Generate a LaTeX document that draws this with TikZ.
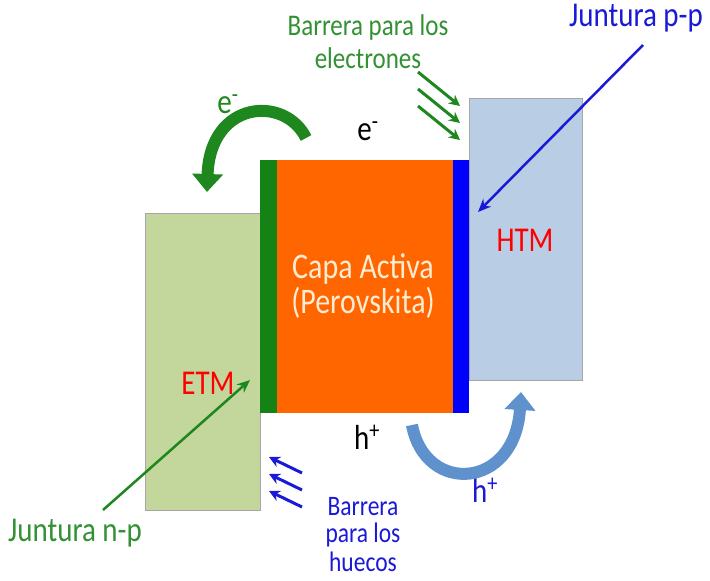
\documentclass[tikz,border=0pt]{standalone}
\usepackage{fontspec}
\usepackage{graphicx}
\setmainfont{Carlito}
\usetikzlibrary{arrows.meta}

\definecolor{etmfill}{RGB}{195,214,155}
\definecolor{htmfill}{RGB}{185,205,229}
\definecolor{stripgreen}{RGB}{20,130,20}
\definecolor{peroorange}{RGB}{255,102,0}
\definecolor{stripblue}{RGB}{0,0,255}
\definecolor{perotext}{RGB}{255,236,210}
\definecolor{labgreen}{RGB}{50,145,50}
\definecolor{arrgreen}{RGB}{30,135,30}
\definecolor{labblue}{RGB}{25,25,215}
\definecolor{holeblue}{RGB}{95,145,205}

\newcommand{\tall}[1]{\scalebox{1}[1.2]{#1}}

\begin{document}
\begin{tikzpicture}[x=1pt,y=-1pt,
    layer/.style={draw=black!35, inner sep=0pt, anchor=north west},
    strip/.style={inner sep=0pt, anchor=north west},
    big/.style={font=\fontsize{29}{30}\selectfont},
    mid/.style={font=\fontsize{25}{26}\selectfont},
    low/.style={font=\fontsize{23.5}{24}\selectfont},
    pointer/.style={line width=2.5pt, -{Stealth[length=13pt,width=11pt]}},
    barrier/.style={line width=3pt, -{Stealth[length=11pt,width=11pt]}},
    curvearrow/.style={line width=12pt, -{Triangle[length=18pt,width=30pt]}}]
    \useasboundingbox (0,0) rectangle (710,581);

    % capas de la celda
    \node at (145,213) [layer, fill=etmfill, minimum width=115pt, minimum height=297pt] (etm) {};
    \node at (469,98) [layer, fill=htmfill, minimum width=113pt, minimum height=282pt] (htm) {};
    \node at (260,160) [strip, fill=stripgreen, minimum width=17pt, minimum height=253pt] (gstrip) {};
    \node at (277,160) [strip, fill=peroorange, minimum width=176pt, minimum height=253pt] (pero) {};
    \node at (453,160) [strip, fill=stripblue, minimum width=16pt, minimum height=253pt] (bstrip) {};

    \node at (208,383) [big, red] (etmlab) {\tall{ETM}};
    \node at (525,240) [big, red] (htmlab) {\tall{HTM}};
    \node at (363,269) [big, perotext, font=\fontsize{30}{31}\selectfont] (perolab1) {\tall{Capa Activa}};
    \node at (363,303) [big, perotext, font=\fontsize{30}{31}\selectfont] (perolab2) {\tall{(Perovskita)}};

    % portadores
    \node at (368,131) [big] (etop) {\tall{e\textsuperscript{-}}};
    \node at (367,437) [big] (hbot) {\tall{h\textsuperscript{+}}};
    \node at (228,104) [big, arrgreen] (egreen) {\tall{e\textsuperscript{-}}};
    \node at (485,490) [big, labblue] (hblue) {\tall{h\textsuperscript{+}}};

    \draw[curvearrow, arrgreen] (306,138) .. controls (285,95) and (210,100) .. (207,192);
    \draw[curvearrow, holeblue] (412,425) .. controls (425,495) and (515,490) .. (521,392);

    % etiquetas
    \node at (368,28) [mid, labgreen] (barre1) {\tall{Barrera para los}};
    \node at (368,58) [mid, labgreen] (barre2) {\tall{electrones}};
    \node at (636,18) [big, labblue] (jpp) {\tall{Juntura p-p}};
    \node at (75,533) [big, labgreen] (jnp) {\tall{Juntura n-p}};
    \node at (363,507) [low, labblue] (barrh1) {\tall{Barrera}};
    \node at (363,535) [low, labblue] (barrh2) {\tall{para los}};
    \node at (363,562) [low, labblue] (barrh3) {\tall{huecos}};

    \coordinate (jppa) at (643,45);
    \coordinate (jppb) at (478,212);
    \coordinate (jnpa) at (103,510);
    \coordinate (jnpb) at (250,380);
    \draw[pointer, labblue] (jppa) -- (jppb);
    \draw[pointer, arrgreen] (jnpa) -- (jnpb);

    \foreach \i/\dy in {1/0,2/17,3/34} {
        \coordinate (ga\i) at (418,72+\dy);
        \coordinate (gb\i) at (460,106+\dy);
        \draw[barrier, arrgreen] (ga\i) -- (gb\i);
        \coordinate (ba\i) at (302,473+\dy);
        \coordinate (bb\i) at (269,457+\dy);
        \draw[barrier, labblue] (ba\i) -- (bb\i);
    }
\end{tikzpicture}
\end{document}
